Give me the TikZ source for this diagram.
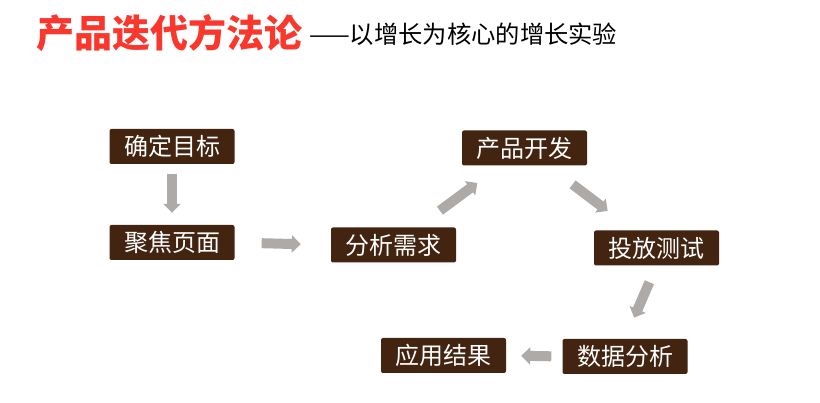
\documentclass[tikz,border=0pt]{standalone}
\usepackage{fontspec}
\setmainfont{Noto Sans CJK SC}
\usetikzlibrary{arrows.meta}
\definecolor{boxbrown}{RGB}{66,36,16}
\definecolor{arrowgray}{RGB}{173,170,167}
\definecolor{titlered}{RGB}{250,55,45}
\begin{document}
\begin{tikzpicture}[x=1pt,y=-1pt,
		stepbox/.style={fill=boxbrown,text=white,rounded corners=2pt,minimum width=125pt,minimum height=35pt,inner sep=0pt,font=\fontsize{24}{24}\selectfont},
		flow/.style={draw=arrowgray,line width=10pt,-{Triangle[length=9pt,width=17pt]}}]
				\useasboundingbox (0,0) rectangle (820,403);
				\node[anchor=west,text=titlered,font=\fontsize{38}{38}\selectfont\bfseries,inner sep=0pt] (title) at (36,33) {产品迭代方法论};
				\node[anchor=west,font=\fontsize{24.3}{24.3}\selectfont,inner sep=0pt] (subtitle) at (309,34) {——以增长为核心的增长实验};
				\node[stepbox] (goal) at (172,146.5) {确定目标};
				\node[stepbox] (focus) at (172,242.5) {聚焦页面};
				\node[stepbox] (need) at (393.5,245) {分析需求};
				\node[stepbox] (dev) at (524.5,148) {产品开发};
				\node[stepbox] (test) at (656.5,248) {投放测试};
				\node[stepbox] (data) at (625,356.5) {数据分析};
				\node[stepbox] (apply) at (443.5,355.5) {应用结果};
				\draw[flow,shorten <=10pt,shorten >=12pt] (goal.south) -- (focus.north);
				\draw[flow,shorten <=27pt,shorten >=30pt] (focus.east) -- (need.west);
				\draw[flow,shorten <=28pt,shorten >=29pt] (need) -- (dev);
				\draw[flow,shorten <=31pt,shorten >=32pt] (dev) -- (test);
				\draw[flow,shorten <=18pt,shorten >=23pt] (test.south) -- (data.north);
				\draw[flow,shorten <=11pt,shorten >=15pt] (data.west) -- (apply.east);
			\end{tikzpicture}
\end{document}
